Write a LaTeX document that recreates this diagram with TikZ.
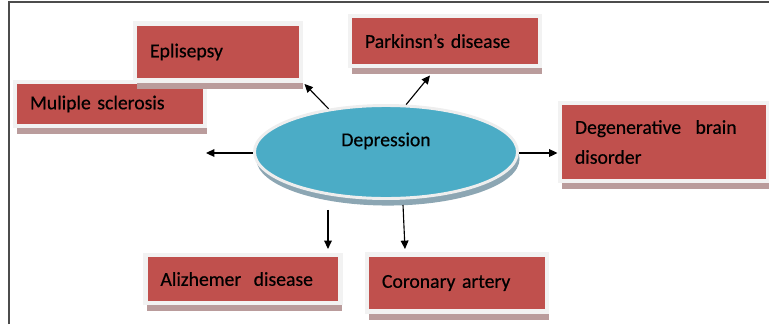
\documentclass[tikz,border=0pt]{standalone}
\usepackage{fontspec}
\setmainfont{Carlito}
\newfontfamily\boxfont{Carlito}[FakeBold=0.5]
\usetikzlibrary{arrows.meta, positioning, shapes.geometric, shadows}

\definecolor{boxred}{HTML}{C0504D}
\definecolor{framegray}{HTML}{F2F2F2}
\definecolor{shadowred}{HTML}{BA9C9C}
\definecolor{hubblue}{HTML}{4BACC6}
\definecolor{rimgray}{HTML}{EEEEEE}
\definecolor{hubshadow}{HTML}{8CA6B3}

\begin{document}
\begin{tikzpicture}[
    x=0.025cm, y=-0.025cm,
    disease/.style={draw=framegray, line width=3.5pt, fill=boxred, align=left, inner xsep=0.375cm, inner ysep=0pt, font=\boxfont\fontsize{14}{21.3}\selectfont, general shadow={fill=shadowred, shadow xshift=1.4pt, shadow yshift=-5.7pt}},
    hub/.style={ellipse, draw=rimgray, line width=2.1pt, fill=hubblue, minimum width=6.575cm, minimum height=2.325cm, inner sep=0pt, general shadow={fill=hubshadow, shadow xshift=1.4pt, shadow yshift=-5pt}},
    arrow/.style={-{Triangle[length=6pt, width=5.5pt]}, line width=0.8pt}
]
\useasboundingbox (0,0) rectangle (769,324);
\draw[gray!60!black, line width=0.8pt] (9,324) -- (9,2) -- (769,2);

\node[disease, text width=4cm, minimum height=1.1cm] (ms) at (110,104) {Muliple sclerosis};
\node[disease, text width=3.4cm, minimum height=1.425cm] (epi) at (218,52) {Eplisepsy};
\node[disease, text width=4cm, minimum height=1.25cm] (pd) at (445,41) {Parkinsn’s disease};
\node[disease, text width=4.45cm, minimum height=1.95cm] (dbd) at (664,142) {Degenerative\hspace{0.4em} brain\\disorder};
\node[disease, text width=4.125cm, minimum height=1.2cm] (ad) at (243,279) {Alizhemer\hspace{0.3em} disease};
\node[disease, text width=3.75cm, minimum height=1.425cm] (ca) at (457,283) {Coronary artery};

\node[hub, label={[yshift=0.275cm, font=\boxfont\fontsize{14}{17}\selectfont]center:Depression}] (dep) at (386,152) {};

\coordinate (void) at (206,153);

\draw[arrow] (dep.west |- void) -- (void);
\draw[arrow] (dep.east |- void) -- (void -| dbd.west);
\draw[arrow, shorten >=1pt] (dep.143) -- (epi.south east);
\draw[arrow] (dep.67) -- ([xshift=-0.375cm, yshift=-0.175cm]pd.south);
\draw[arrow] ([xshift=-1.45cm, yshift=-0.25cm]dep.south) -- ([xshift=-1.45cm, yshift=0.09cm]dep.south |- ad.north);
\draw[arrow] ([xshift=0.425cm, yshift=-0.125cm]dep.south) -- ([xshift=-1.3cm, yshift=0.075cm]ca.north);
\end{tikzpicture}
\end{document}
